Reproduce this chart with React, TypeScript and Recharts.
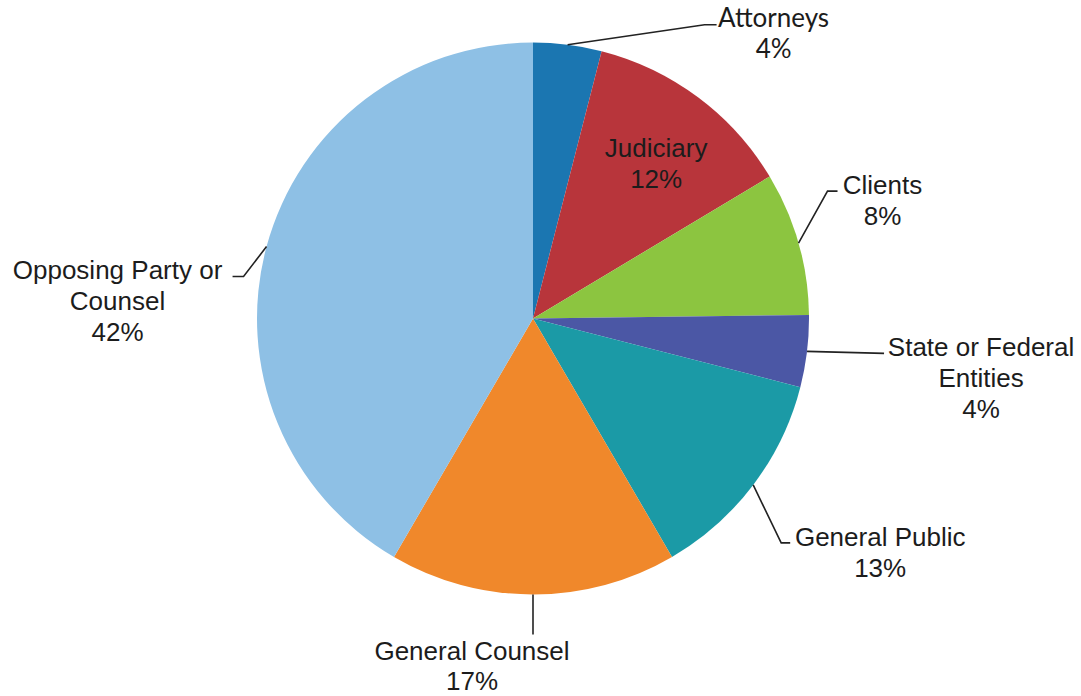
import React from 'react';
import { PieChart, Pie, Cell } from 'recharts';

// ---- data ----
const categories = [
  'Attorneys',
  'Judiciary',
  'Clients',
  'State or Federal Entities',
  'General Public',
  'General Counsel',
  'Opposing Party or Counsel',
];
const shares = [4.0, 12.4, 8.4, 4.2, 12.6, 16.8, 41.6];
const labelText = [
  ['Attorneys'],
  ['Judiciary'],
  ['Clients'],
  ['State or Federal', 'Entities'],
  ['General Public'],
  ['General Counsel'],
  ['Opposing Party or', 'Counsel'],
];
const colors = ['#1b76b1', '#b8353b', '#8cc540', '#4b57a5', '#1b9aa6', '#f0882b', '#8ec0e5'];

// ---- layout (label placement relative to the slice edge) ----
type Layout = {
  inside?: boolean;
  r?: number;
  elbow?: [number, number];
  stub?: number;
  text: [number, number];
  lh?: number;
  font?: string;
};
const labelLayout: Layout[] = [
  { elbow: [137, -20], stub: 12, text: [57, -7], font: 'Lato, "Liberation Sans", Arial, sans-serif' },
  { inside: true, r: 0.71, text: [6, 2] },
  { elbow: [29, -52], stub: 10, text: [45, -6] },
  { elbow: [77, 2], stub: 0, text: [97, -6] },
  { elbow: [28, 58], stub: 9, text: [90, -6] },
  { elbow: [0, 40], stub: 0, text: [-61, 16], lh: 30 },
  { elbow: [-23, 30], stub: -11, text: [-115, -7] },
];

const data = categories.map((name, i) => ({ name, value: shares[i] }));

const FS = 26;
const LH = 31;
const FONT = '"Liberation Sans", Arial, sans-serif';
const RAD = Math.PI / 180;

const renderLabel = (props: any) => {
  const { cx, cy, midAngle, outerRadius, index } = props;
  const L = labelLayout[index];
  const c = Math.cos(-midAngle * RAD);
  const s = Math.sin(-midAngle * RAD);
  const lines = [...labelText[index], `${Math.round(shares[index])}%`];
  const fam = L.font || FONT;
  const lh = L.lh || LH;
  const textBlock = (tx: number, ty: number) =>
    lines.map((t, i) => (
      <text
        key={i}
        x={tx}
        y={ty + i * lh + 0.35 * FS}
        textAnchor="middle"
        fontSize={FS}
        fontFamily={fam}
        fill="#1c1c1c"
      >
        {t}
      </text>
    ));
  if (L.inside) {
    const r = outerRadius * (L.r || 0.7);
    const x = cx + r * c + L.text[0];
    const y = cy + r * s + L.text[1];
    const top = y - ((lines.length - 1) * lh) / 2;
    return <g key={`lbl-${index}`}>{textBlock(x, top)}</g>;
  }
  const ex = cx + outerRadius * c;
  const ey = cy + outerRadius * s;
  const bx = ex + (L.elbow ? L.elbow[0] : 0);
  const by = ey + (L.elbow ? L.elbow[1] : 0);
  const fx = bx + (L.stub || 0);
  const fy = by;
  const tx = fx + L.text[0];
  const ty = fy + L.text[1];
  return (
    <g key={`lbl-${index}`}>
      <polyline
        points={`${ex},${ey} ${bx},${by} ${fx},${fy}`}
        fill="none"
        stroke="#222"
        strokeWidth={1.6}
      />
      {textBlock(tx, ty)}
    </g>
  );
};

export default function App() {
  return (
    <div style={{ position: 'absolute', left: 0, top: 0, width: 1081, height: 696, background: '#fff' }}>
      <PieChart width={1081} height={696} margin={{ top: 0, right: 0, bottom: 0, left: 0 }}>
        <Pie
          data={data}
          dataKey="value"
          nameKey="name"
          cx={533}
          cy={318.5}
          outerRadius={276}
          startAngle={90}
          endAngle={-270}
          stroke="none"
          label={renderLabel}
          labelLine={false}
          isAnimationActive={false}
        >
          {data.map((d, i) => (
            <Cell key={d.name} fill={colors[i]} />
          ))}
        </Pie>
      </PieChart>
    </div>
  );
}
